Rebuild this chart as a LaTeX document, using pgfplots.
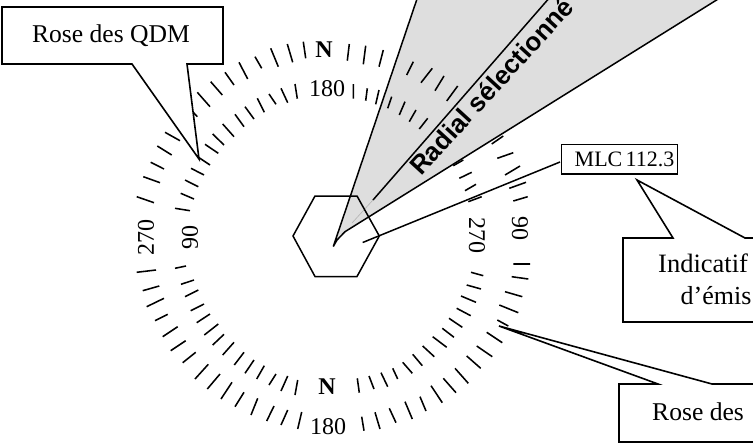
\documentclass[border=0pt]{standalone}
\usepackage{fontspec}
\setmainfont{Liberation Serif}
\newfontfamily\radialfont{Liberation Sans}
\usepackage{pgfplots}
\pgfplotsset{compat=1.18}
\newcommand{\fs}[1]{\fontsize{#1}{#1}\selectfont}
\pgfplotsset{
  ticks/.style={black,line width=1.55pt,no marks,empty line=jump,forget plot},
  shape/.style={black,line width=1.6pt,no marks,forget plot,line join=miter},
}
\begin{document}
\begin{tikzpicture}
\useasboundingbox (0,0) rectangle (753pt,447pt);
\clip (0,0) rectangle (753pt,447pt);
\begin{axis}[
  at={(0,0)},anchor=south west,
  scale only axis,width=753pt,height=447pt,
  xmin=0,xmax=753,ymin=0,ymax=447,y dir=reverse,
  hide axis,clip=false,
]
% selected radial sector
\addplot[shape,fill=black!13,line width=1.5pt] coordinates {
  (333.3,246.5) (418,-4) (723,-4) (345,231.7) (337,240)} -- cycle;
\addplot[shape,line width=1.5pt] coordinates {(373,200) (551,-4)};
\addplot[shape,black!30,line width=0.6pt] coordinates {(352,223) (373,200)};

% outer rose, upper left
\addplot[ticks] coordinates {
(303.3,41.7)(305.7,58.3)

(287.3,44)(292.7,62.3)

(270.7,48.3)(278.3,66.7)

(255,56.7)(261.7,68.3)

(239,62.3)(247.7,79)

(225,72.3)(234,85)

(210.7,81.7)(222.3,95)

(197.3,92.3)(210,106.7)

(182,100)(197.3,116.7)

(165,132.3)(180,140.7)

(157.3,146)(171.7,155)

(150.7,162.3)(164,169)

(143.3,176.7)(160,182.7)

(136.7,196.7)(154,202.7)
};
% inner rose, upper left
\addplot[ticks] coordinates {
(295,84)(297.3,98.7)

(281,88.3)(287.7,102.7)

(269,94)(276,104.3)

(257.3,98.3)(264.3,112.3)

(245,106.7)(254,119)

(235,114.3)(244,126.7)

(222.7,124)(234,136.7)

(212.7,134)(224,145)

(205,144.3)(218.3,153.3)

(198,157)(210,165)

(191,168.3)(204,175)

(185,180)(198.3,186.7)

(180.7,193.3)(194,199)

(175,208.3)(190,210.7)
};
% outer rose, upper right
\addplot[ticks] coordinates {
(349.3,44)(347.3,60.7)

(365.7,45.7)(363.3,64.3)

(383.3,50)(379,66.7)

(413.3,61.7)(406.7,75)

(432.3,68.3)(421,82.7)

(444,76)(435,90.7)

(457.7,86)(446.7,101)

(503.3,136)(491.7,144)

(513.3,152.7)(497.3,158.3)

(520,166)(505,175)

(526,182.3)(509.3,188.3)

(527.7,196.7)(513.3,201)
};
% inner rose, upper right
\addplot[ticks] coordinates {
(353.3,84)(353.3,98.7)

(367.3,88.3)(365.7,100.7)

(379,90)(375.7,104.3)

(391.7,96.7)(387.7,108.3)

(405,101.7)(399.3,115)

(416,110)(409.3,121.7)

(427.7,118.3)(419.3,129)

(463.3,160)(453.3,165.7)

(471.7,172.3)(459.3,178.3)

(476,184.3)(465,190.7)

(481.7,196.7)(468.3,201.7)
};
% outer rose, lower right
\addplot[ticks] coordinates {
(513.3,264)(530,264)

(511.7,276.7)(528.3,279)

(505,291.7)(522.3,296.7)

(499.3,305)(518.3,312.7)

(497.3,320)(508.3,326)

(486.7,332.3)(502.3,342.7)

(476.7,346)(492.3,356.7)

(466.7,356)(480.7,368.3)

(455,368.3)(468.3,383.3)

(443.3,378.3)(456,392.7)

(431,385.7)(442.3,402.7)

(420,396.7)(426,411)

(405,401.7)(412.3,419)

(389.3,408.3)(396,422.7)

(375,412.3)(380,429)

(361.7,416.7)(364,430.7)
};
% inner rose, lower right
\addplot[ticks] coordinates {
(471,272.3)(483.3,275.7)

(466.7,285)(481,289)

(461,296)(476,302.3)

(456.7,308.3)(470.7,315.7)

(449,318.3)(462.3,327.3)

(442.3,328.3)(454,337.3)

(432.7,336.7)(446.7,347.3)

(422.7,346)(434.3,356.7)

(412.7,354.3)(422.3,365.7)

(402.7,362.3)(412.3,373.3)

(392.7,368.3)(397.7,379)

(381,372.7)(387.7,386.7)

(369,376)(374,389)

(357.3,378.3)(359.3,392.7)
};
% outer rose, lower left
\addplot[ticks] coordinates {
(136.7,272.3)(156,270)

(142.7,290.7)(159.3,286)

(146.7,306.7)(164,298.3)

(155,320.7)(167.7,314.3)

(162.7,336.7)(177.7,326.7)

(170.7,350.7)(185.7,340.7)

(182.7,362.7)(195.7,352.3)

(195,379)(208.3,364.3)

(207.3,389)(220,374)

(221,399)(232,382.3)

(235,406.7)(244,392.3)

(251,415)(257.7,398.3)

(266.7,421)(274,406)

(281,425)(287.7,410)

(297.7,429)(301.7,412)
};
% inner rose, lower left
\addplot[ticks] coordinates {
(175,268.3)(186,266)

(181,284.3)(194,280)

(185,296.7)(198.3,290)

(190.7,310.7)(204,304)

(196.7,322.7)(210,314)

(204.3,335)(218.3,324)

(212.7,345)(224,334.3)

(222.7,355)(234,342.3)

(234.3,365)(244,352.3)

(245,373.3)(254,360)

(256.7,379)(264.3,365.7)

(269,385)(276,374)

(281,391)(287.7,376)

(295,395)(297.7,380)
};

% station hexagon and indicator line
\addplot[shape,line width=1.5pt] coordinates {
  (293,236) (315,196) (357,196) (379.3,236) (357,276.5) (315,276.5)} -- cycle;
\addplot[shape,line width=1.5pt] coordinates {(362.7,242.5) (560,162)};

% callouts
\addplot[shape,fill=white] coordinates {
  (2,7) (223,7) (223,64) (187,64) (199,159) (132,64) (2,64)} -- cycle;
\addplot[shape,fill=white] coordinates {
  (623,238) (673,238) (637,180) (745,238) (800,238) (800,322) (623,322)} -- cycle;
\addplot[shape,fill=white] coordinates {
  (619,384) (658,384) (499,326) (712,384) (800,384) (800,442) (619,442)} -- cycle;
\addplot[shape,fill=white] coordinates {
  (561.5,144.5) (677.5,144.5) (677.5,174) (561.5,174)} -- cycle;

\node[font=\fs{25.6},anchor=base] at (axis cs:111,42.5) {Rose des QDM};
\node[font=\fs{22},anchor=base west,inner sep=0pt] at (axis cs:574.5,166) {MLC\hspace{0.15em}112.3};
\node[font=\fs{26.5},anchor=base west,inner sep=0pt] at (axis cs:658,272) {Indicatif};
\node[font=\fs{26},anchor=base west,inner sep=0pt] at (axis cs:680.5,304) {d’émis};
\node[font=\fs{25.6},anchor=base west,inner sep=0pt] at (axis cs:652,420) {Rose des};
\node[font=\fs{24}\bfseries] at (axis cs:324,50) {N};
\node[font=\fs{24}\bfseries] at (axis cs:327,387) {N};
\node[font=\fs{24}] at (axis cs:327,89) {180};
\node[font=\fs{24}] at (axis cs:328,427) {180};
\node[font=\fs{24},rotate=90] at (axis cs:146,237) {270};
\node[font=\fs{24},rotate=90] at (axis cs:190,237) {90};
\node[font=\fs{24},rotate=-90] at (axis cs:477,235) {270};
\node[font=\fs{24},rotate=-90] at (axis cs:520,228) {90};
\node[font=\fs{26}\radialfont\bfseries,rotate=47.5,anchor=base west,inner sep=0pt] at (axis cs:421,177) {Radial sélectionné};
\end{axis}
\end{tikzpicture}
\end{document}
